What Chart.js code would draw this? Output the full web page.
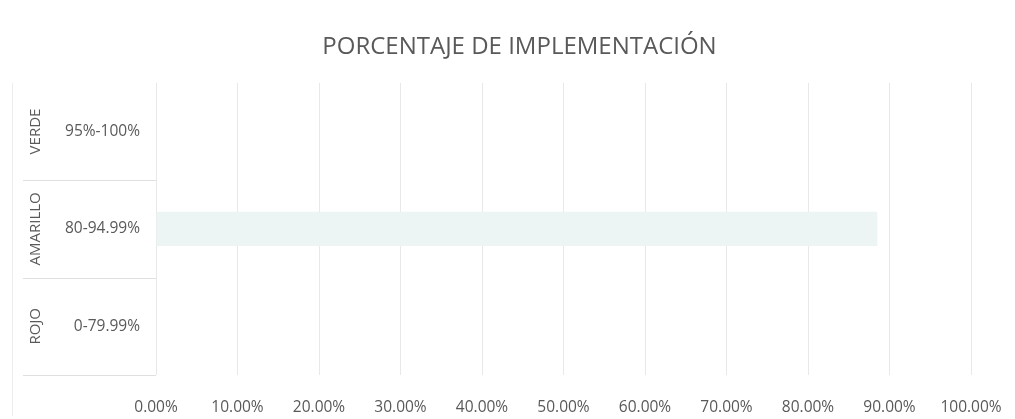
<!DOCTYPE html>
<html>
<head>
<meta charset="utf-8">
<script src="https://cdn.jsdelivr.net/npm/chart.js@4/dist/chart.umd.min.js"></script>
<style>
    html, body { margin: 0; padding: 0; background: #ffffff; }
    #wrap { position: relative; width: 1015px; height: 419px; }
</style>
</head>
<body>
<div id="wrap"><canvas id="chart"></canvas></div>
<script>
// Data
const categories = ['95%-100%', '80-94.99%', '0-79.99%'];
const groups = ['VERDE', 'AMARILLO', 'ROJO'];
const implementation = [null, 0.885, null];

const TEXT_COLOR = '#595959';
const FONT = '"Open Sans", sans-serif';

// Draws the outer (rotated) group labels and the separators of the category axis
const groupLabels = {
    id: 'groupLabels',
    afterDraw(chart) {
        const ctx = chart.ctx;
        const y = chart.scales.y;
        const area = chart.chartArea;
        const half = (y.getPixelForTick(1) - y.getPixelForTick(0)) / 2;

        ctx.save();
        ctx.strokeStyle = '#e0e0e0';
        ctx.lineWidth = 1;
        for (let i = 0; i < groups.length; i++) {
            const yb = Math.round(y.getPixelForTick(i) + half) + 0.5;
            ctx.beginPath();
            ctx.moveTo(23, yb);
            ctx.lineTo(area.left, yb);
            ctx.stroke();
        }
        // faint outer border on the left
        ctx.strokeStyle = '#ececec';
        ctx.beginPath();
        ctx.moveTo(12.5, area.top);
        ctx.lineTo(12.5, 416);
        ctx.stroke();

        ctx.fillStyle = TEXT_COLOR;
        ctx.font = '15px ' + FONT;
        ctx.textAlign = 'center';
        ctx.textBaseline = 'middle';
        groups.forEach((g, i) => {
            const yc = y.getPixelForTick(i);
            ctx.save();
            ctx.translate(36, yc);
            ctx.rotate(-Math.PI / 2);
            ctx.fillText(g, 0, 0);
            ctx.restore();
        });
        ctx.restore();
    }
};

new Chart(document.getElementById('chart'), {
    type: 'bar',
    data: {
        labels: categories,
        datasets: [{
            label: 'Implementación',
            data: implementation,
            backgroundColor: '#edf4f4',
            borderWidth: 0,
            categoryPercentage: 1,
            barPercentage: 0.35
        }]
    },
    options: {
        indexAxis: 'y',
        responsive: true,
        maintainAspectRatio: false,
        animation: false,
        layout: { padding: { left: 24, right: 0, top: 0, bottom: 0 } },
        scales: {
            x: {
                min: 0,
                max: 1,
                ticks: {
                    stepSize: 0.1,
                    padding: 23,
                    color: TEXT_COLOR,
                    font: { family: FONT, size: 15.5 },
                    maxRotation: 0,
                    callback: function(value) {
                        return (value * 100).toFixed(2) + '%';
                    }
                },
                grid: { color: '#e8e8e8', drawTicks: false },
                border: { display: false },
                afterFit: function(scale) {
                    scale.height = 44;
                    scale.paddingRight = 44;
                }
            },
            y: {
                offset: true,
                ticks: {
                    padding: 16,
                    color: TEXT_COLOR,
                    font: { family: FONT, size: 15.5 }
                },
                grid: { display: false, drawTicks: false },
                border: { display: false },
                afterFit: function(scale) { scale.width = 132; }
            }
        },
        plugins: {
            legend: { display: false },
            tooltip: { enabled: false },
            title: {
                display: true,
                text: 'PORCENTAJE DE IMPLEMENTACIÓN',
                color: TEXT_COLOR,
                font: { family: FONT, size: 24, weight: 'normal' },
                padding: { top: 33, bottom: 21 }
            }
        }
    },
    plugins: [groupLabels]
});
</script>
</body>
</html>
